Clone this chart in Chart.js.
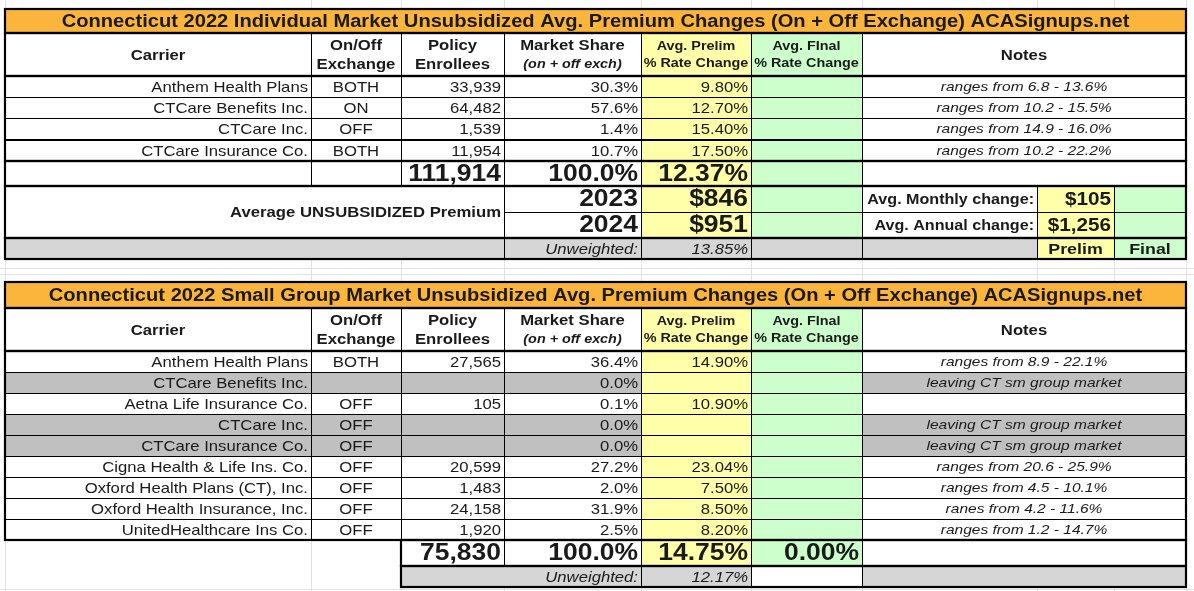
<!DOCTYPE html>
<html>
<head>
<meta charset="utf-8">
<script src="https://cdn.jsdelivr.net/npm/chart.js@4.4.1/dist/chart.umd.min.js"></script>
<style>
  html, body { margin: 0; padding: 0; background: #fff; }
  canvas { display: block; }
</style>
</head>
<body>
<canvas id="sheet" width="1194" height="591"></canvas>
<script>
// ---- data: individual market ----
const TITLE_IND = "Connecticut 2022 Individual Market Unsubsidized Avg. Premium Changes (On + Off Exchange) ACASignups.net";
const IND_CARRIERS = ["Anthem Health Plans", "CTCare Benefits Inc.", "CTCare Inc.", "CTCare Insurance Co."];
const IND_EXCH = ["BOTH", "ON", "OFF", "BOTH"];
const IND_ENROLL = ["33,939", "64,482", "1,539", "11,954"];
const IND_SHARE = ["30.3%", "57.6%", "1.4%", "10.7%"];
const IND_PRELIM = ["9.80%", "12.70%", "15.40%", "17.50%"];
const IND_NOTES = ["ranges from 6.8 - 13.6%", "ranges from 10.2 - 15.5%", "ranges from 14.9 - 16.0%", "ranges from 10.2 - 22.2%"];
const IND_TOTALS = ["111,914", "100.0%", "12.37%"];
const IND_YEARS = ["2023", "2024"];
const IND_PREMIUMS = ["$846", "$951"];
const IND_CHANGE_LABELS = ["Avg. Monthly change:", "Avg. Annual change:"];
const IND_CHANGES = ["$105", "$1,256"];
const IND_UNWEIGHTED = "13.85%";

// ---- data: small group market ----
const TITLE_SG = "Connecticut 2022 Small Group Market Unsubsidized Avg. Premium Changes (On + Off Exchange) ACASignups.net";
const SG_CARRIERS = ["Anthem Health Plans", "CTCare Benefits Inc.", "Aetna Life Insurance Co.", "CTCare Inc.", "CTCare Insurance Co.",
  "Cigna Health & Life Ins. Co.", "Oxford Health Plans (CT), Inc.", "Oxford Health Insurance, Inc.", "UnitedHealthcare Ins Co."];
const SG_EXCH = ["BOTH", "", "OFF", "OFF", "OFF", "OFF", "OFF", "OFF", "OFF"];
const SG_ENROLL = ["27,565", "", "105", "", "", "20,599", "1,483", "24,158", "1,920"];
const SG_SHARE = ["36.4%", "0.0%", "0.1%", "0.0%", "0.0%", "27.2%", "2.0%", "31.9%", "2.5%"];
const SG_PRELIM = ["14.90%", "", "10.90%", "", "", "23.04%", "7.50%", "8.50%", "8.20%"];
const SG_NOTES = ["ranges from 8.9 - 22.1%", "leaving CT sm group market", "", "leaving CT sm group market", "leaving CT sm group market",
  "ranges from 20.6 - 25.9%", "ranges from 4.5 - 10.1%", "ranes from 4.2 - 11.6%", "ranges from 1.2 - 14.7%"];
const SG_LEAVING = [false, true, false, true, true, false, false, false, false];
const SG_TOTALS = ["75,830", "100.0%", "14.75%", "0.00%"];
const SG_UNWEIGHTED = "12.17%";

// ---- layout ----
const COLS = [5, 311, 401, 504, 641, 751, 862, 1037, 1114, 1186];
const ROW_H = 21;
const STRETCH = 1.15; // the screenshot is a little wider than tall
const ORANGE = "#fbb53c", YELLOW = "#ffffaa", GREEN = "#ccffcc", GRAY = "#c0c0c0", LGRAY = "#d6d6d6";
const FONT = "'Liberation Sans', Arial, sans-serif";

const tablePlugin = {
  id: "table",
  afterDraw(chart) {
    const c = chart.ctx;
    const sx = chart.scales.x, sy = chart.scales.y;
    const X = (v) => sx.getPixelForValue(v);
    const Y = (v) => sy.getPixelForValue(v);

    function cell(x0, x1, y0, y1, fill, text, o = {}) {
      const px0 = X(x0), px1 = X(x1), py0 = Y(y0), py1 = Y(y1);
      if (fill) { c.fillStyle = fill; c.fillRect(px0, py0, px1 - px0, py1 - py0); }
      c.strokeStyle = "#000"; c.lineWidth = 1;
      c.strokeRect(px0 + 0.5, py0 + 0.5, px1 - px0, py1 - py0);
      if (!text) return;
      const lines = Array.isArray(text) ? text : [text];
      const size = o.size || 14.5;
      c.fillStyle = o.color || "#1a1a1a";
      c.textBaseline = "middle";
      const align = o.align || "right";
      c.textAlign = align;
      const tx = align === "right" ? px1 - 3 : align === "left" ? px0 + 3 : (px0 + px1) / 2;
      const lh = o.lh || size * 1.25;
      const mid = (py0 + py1) / 2 + 1;
      lines.forEach((ln, i) => {
        const italic = o.italicLine === i || o.italic;
        c.font = `${italic ? "italic " : ""}${o.bold ? "bold " : ""}${o.lineSize && o.lineSize[i] || size}px ${FONT}`;
        c.save();
        c.translate(tx, mid + (i - (lines.length - 1) / 2) * lh);
        c.scale(STRETCH, 1);
        c.fillText(ln, 0, 0);
        c.restore();
      });
    }
    function thick(x0, x1, y0, y1) {
      c.strokeStyle = "#000"; c.lineWidth = 2.2;
      c.strokeRect(X(x0), Y(y0), X(x1) - X(x0), Y(y1) - Y(y0));
    }
    const [c0, c1, c2, c3, c4, c5, c6, c7, c8, c9] = COLS;

    function header(y0, y1) {
      const h = { align: "center", bold: true, size: 14.5 };
      cell(c0, c1, y0, y1, "#fff", "Carrier", h);
      cell(c1, c2, y0, y1, "#fff", ["On/Off", "Exchange"], h);
      cell(c2, c3, y0, y1, "#fff", ["Policy", "Enrollees"], h);
      cell(c3, c4, y0, y1, "#fff", ["Market Share", "(on + off exch)"], { ...h, italicLine: 1, lineSize: [14.5, 12.5] });
      cell(c4, c5, y0, y1, YELLOW, ["Avg. Prelim", "% Rate Change"], { ...h, size: 12.5, lh: 17 });
      cell(c5, c6, y0, y1, GREEN, ["Avg. FInal", "% Rate Change"], { ...h, size: 12.5, lh: 17 });
      cell(c6, c9, y0, y1, "#fff", "Notes", h);
    }

    // ===== Individual market =====
    let t0 = 9, t1 = 33, h1 = 76;
    cell(c0, c9, t0, t1, ORANGE, TITLE_IND, { align: "center", bold: true, size: 17.5 });
    header(t1, h1);
    IND_CARRIERS.forEach((name, i) => {
      const y0 = h1 + i * ROW_H + (i > 2 ? 1 : 0), y1 = y0 + ROW_H;
      cell(c0, c1, y0, y1, "#fff", name);
      cell(c1, c2, y0, y1, "#fff", IND_EXCH[i], { align: "center" });
      cell(c2, c3, y0, y1, "#fff", IND_ENROLL[i]);
      cell(c3, c4, y0, y1, "#fff", IND_SHARE[i]);
      cell(c4, c5, y0, y1, YELLOW, IND_PRELIM[i]);
      cell(c5, c6, y0, y1, GREEN, "");
      cell(c6, c9, y0, y1, "#fff", IND_NOTES[i], { align: "center", italic: true, size: 13.5 });
    });
    let d1 = 161, tot1 = 186, p1 = 212, p2 = 238, u1 = 259;
    const big = { bold: true, size: 23 };
    cell(c0, c1, d1, tot1, "#fff", "");
    cell(c1, c2, d1, tot1, "#fff", "");
    cell(c2, c3, d1, tot1, "#fff", IND_TOTALS[0], big);
    cell(c3, c4, d1, tot1, "#fff", IND_TOTALS[1], big);
    cell(c4, c5, d1, tot1, YELLOW, IND_TOTALS[2], big);
    cell(c5, c6, d1, tot1, GREEN, "");
    cell(c6, c9, d1, tot1, "#fff", "");
    cell(c0, c3, tot1, p2, "#fff", "Average UNSUBSIDIZED Premium", { bold: true, size: 14.5 });
    [[tot1, p1], [p1, p2]].forEach(([y0, y1], i) => {
      cell(c3, c4, y0, y1, "#fff", IND_YEARS[i], big);
      cell(c4, c5, y0, y1, YELLOW, IND_PREMIUMS[i], big);
      cell(c5, c6, y0, y1, GREEN, "");
      cell(c6, c7, y0, y1, "#fff", IND_CHANGE_LABELS[i], { bold: true, size: 14 });
      cell(c7, c8, y0, y1, YELLOW, IND_CHANGES[i], { bold: true, size: 18 });
      cell(c8, c9, y0, y1, GREEN, "");
    });
    cell(c0, c3, p2, u1, LGRAY, "");
    cell(c3, c4, p2, u1, LGRAY, "Unweighted:", { italic: true, size: 14.5 });
    cell(c4, c5, p2, u1, LGRAY, IND_UNWEIGHTED, { italic: true, size: 14.5 });
    cell(c5, c6, p2, u1, LGRAY, "");
    cell(c6, c7, p2, u1, LGRAY, "");
    cell(c7, c8, p2, u1, YELLOW, "Prelim", { align: "center", bold: true, size: 15.5 });
    cell(c8, c9, p2, u1, GREEN, "Final", { align: "center", bold: true, size: 15.5 });
    thick(c0, c9, t0, t1);
    thick(c0, c9, t1, h1);
    thick(c0, c9, h1, d1);
    thick(c0, c9, d1, tot1);
    thick(c0, c9, tot1, p2);
    thick(c0, c9, p2, u1);

    // ===== Small group market =====
    t0 = 282; t1 = 308; h1 = 351;
    cell(c0, c9, t0, t1, ORANGE, TITLE_SG, { align: "center", bold: true, size: 17.5 });
    header(t1, h1);
    SG_CARRIERS.forEach((name, i) => {
      const y0 = h1 + i * ROW_H, y1 = y0 + ROW_H;
      const bg = SG_LEAVING[i] ? GRAY : "#fff";
      cell(c0, c1, y0, y1, bg, name);
      cell(c1, c2, y0, y1, bg, SG_EXCH[i], { align: "center" });
      cell(c2, c3, y0, y1, bg, SG_ENROLL[i]);
      cell(c3, c4, y0, y1, bg, SG_SHARE[i]);
      cell(c4, c5, y0, y1, YELLOW, SG_PRELIM[i]);
      cell(c5, c6, y0, y1, GREEN, "");
      cell(c6, c9, y0, y1, bg, SG_NOTES[i], { align: "center", italic: true, size: 13.5 });
    });
    d1 = 540; tot1 = 566; u1 = 587;
    cell(c2, c3, d1, tot1, "#fff", SG_TOTALS[0], big);
    cell(c3, c4, d1, tot1, "#fff", SG_TOTALS[1], big);
    cell(c4, c5, d1, tot1, YELLOW, SG_TOTALS[2], big);
    cell(c5, c6, d1, tot1, GREEN, SG_TOTALS[3], big);
    cell(c6, c9, d1, tot1, "#fff", "");
    cell(c2, c4, tot1, u1, LGRAY, "Unweighted:", { italic: true, size: 14.5 });
    cell(c4, c5, tot1, u1, LGRAY, SG_UNWEIGHTED, { italic: true, size: 14.5 });
    cell(c5, c6, tot1, u1, "#fff", "");
    cell(c6, c9, tot1, u1, LGRAY, "");
    thick(c0, c9, t0, t1);
    thick(c0, c9, t1, h1);
    thick(c0, c9, h1, d1);
    thick(c2, c9, d1, tot1);
    thick(c2, c9, tot1, u1);
  },
  beforeDraw(chart) {
    // spreadsheet background grid
    const c = chart.ctx;
    const sx = chart.scales.x, sy = chart.scales.y;
    c.fillStyle = "#fff"; c.fillRect(0, 0, chart.width, chart.height);
    c.strokeStyle = "#e2e2e2"; c.lineWidth = 1;
    COLS.forEach((v) => {
      const px = Math.round(sx.getPixelForValue(v)) + 0.5;
      c.beginPath(); c.moveTo(px, 0); c.lineTo(px, chart.height); c.stroke();
    });
    [268, 274, 589].forEach((v) => {
      const py = Math.round(sy.getPixelForValue(v)) + 0.5;
      c.beginPath(); c.moveTo(0, py); c.lineTo(chart.width, py); c.stroke();
    });
  },
};

new Chart(document.getElementById("sheet"), {
  type: "scatter",
  data: { datasets: [{ data: [] }] },
  options: {
    responsive: false,
    animation: false,
    layout: { padding: 0 },
    plugins: { legend: { display: false }, tooltip: { enabled: false } },
    scales: {
      x: { type: "linear", min: 0, max: 1194, display: false },
      y: { type: "linear", min: 0, max: 591, reverse: true, display: false },
    },
  },
  plugins: [tablePlugin],
});
</script>
</body>
</html>
